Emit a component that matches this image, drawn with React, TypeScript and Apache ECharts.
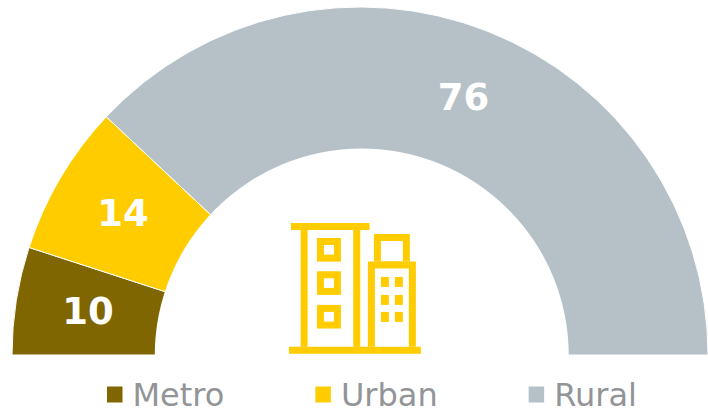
import React, { useEffect, useRef } from "react";
import * as echarts from "echarts";

const categories = ["Metro", "Urban", "Rural"];
const values = [10, 14, 76];
const colors = ["#806600", "#ffcc00", "#b5c0c7"];

const YELLOW = "#ffcc00";
// icon parts: [x0, y0, x1, y1] in a 3x icon space
const iconSolid = [
  [63, 39, 299, 60],
  [92, 60, 113, 411],
  [250, 60, 271, 411],
  [141, 84, 213, 155],
  [141, 184, 213, 255],
  [141, 285, 213, 356],
  [312, 72, 420, 155],
  [294, 155, 438, 411],
  [57, 411, 453, 432],
];
const iconHoles = [
  [162, 105, 192, 134],
  [162, 205, 192, 234],
  [162, 306, 192, 335],
  [333, 93, 399, 153],
  [315, 176, 417, 411],
];
const iconDots = [
  [333, 201, 357, 231],
  [375, 201, 399, 231],
  [333, 255, 357, 285],
  [375, 255, 399, 285],
  [333, 306, 357, 336],
  [375, 306, 399, 336],
];

const toRects = (list: number[][], fill: string) =>
  list.map(([a, b, c, d]) => ({
    type: "rect",
    z: 6,
    shape: { x: a, y: b, width: c - a, height: d - b },
    style: { fill },
  }));

export default function App() {
  const ref = useRef<HTMLDivElement>(null);
  useEffect(() => {
    const chart = echarts.init(ref.current!, undefined, { renderer: "svg" });
    const total = values.reduce((a, b) => a + b, 0);
    chart.setOption({
      animation: false,
      backgroundColor: "#ffffff",
      legend: {
        data: categories,
        left: 107,
        top: 378,
        icon: "rect",
        itemWidth: 15.5,
        itemHeight: 16,
        itemGap: 91,
        selectedMode: false,
        padding: 0,
        itemStyle: { borderWidth: 0 },
        textStyle: {
          color: "#929497",
          fontFamily: "DejaVu Sans",
          fontSize: 32,
          lineHeight: 28,
          padding: [0, 0, 5, 5],
        },
      },
      series: [
        {
          type: "pie",
          center: [360, 355],
          radius: [200, 348],
          startAngle: 180,
          clockwise: true,
          silent: true,
          labelLine: { show: false },
          label: {
            show: true,
            position: "inside",
            formatter: "{c}",
            color: "#ffffff",
            fontFamily: "DejaVu Sans",
            fontWeight: "bold",
            fontSize: 37,
            padding: [4, 0, 0, 3],
          },
          itemStyle: { borderColor: "#ffffff", borderWidth: 1 },
          data: [
            ...categories.map((name, i) => ({
              name,
              value: values[i],
              itemStyle: { color: colors[i] },
            })),
            {
              name: "",
              value: total,
              itemStyle: { color: "transparent", borderWidth: 0 },
              label: { show: false },
            },
          ],
        },
      ],
      graphic: [
        {
          type: "sector",
          silent: true,
          z: 5,
          shape: {
            cx: 361.75,
            cy: 355.5,
            r0: 0,
            r: 207,
            startAngle: Math.PI,
            endAngle: 2 * Math.PI,
          },
          style: { fill: "#ffffff" },
        },
        {
          type: "group",
          x: 270,
          y: 210,
          scaleX: 1 / 3,
          scaleY: 1 / 3,
          silent: true,
          children: [
            ...toRects(iconSolid, YELLOW),
            ...toRects(iconHoles, "#ffffff"),
            ...toRects(iconDots, YELLOW),
          ],
        },
      ],
    });
    return () => chart.dispose();
  }, []);
  return (
    <div
      ref={ref}
      style={{ position: "fixed", left: 0, top: 0, width: 708, height: 410 }}
    />
  );
}
